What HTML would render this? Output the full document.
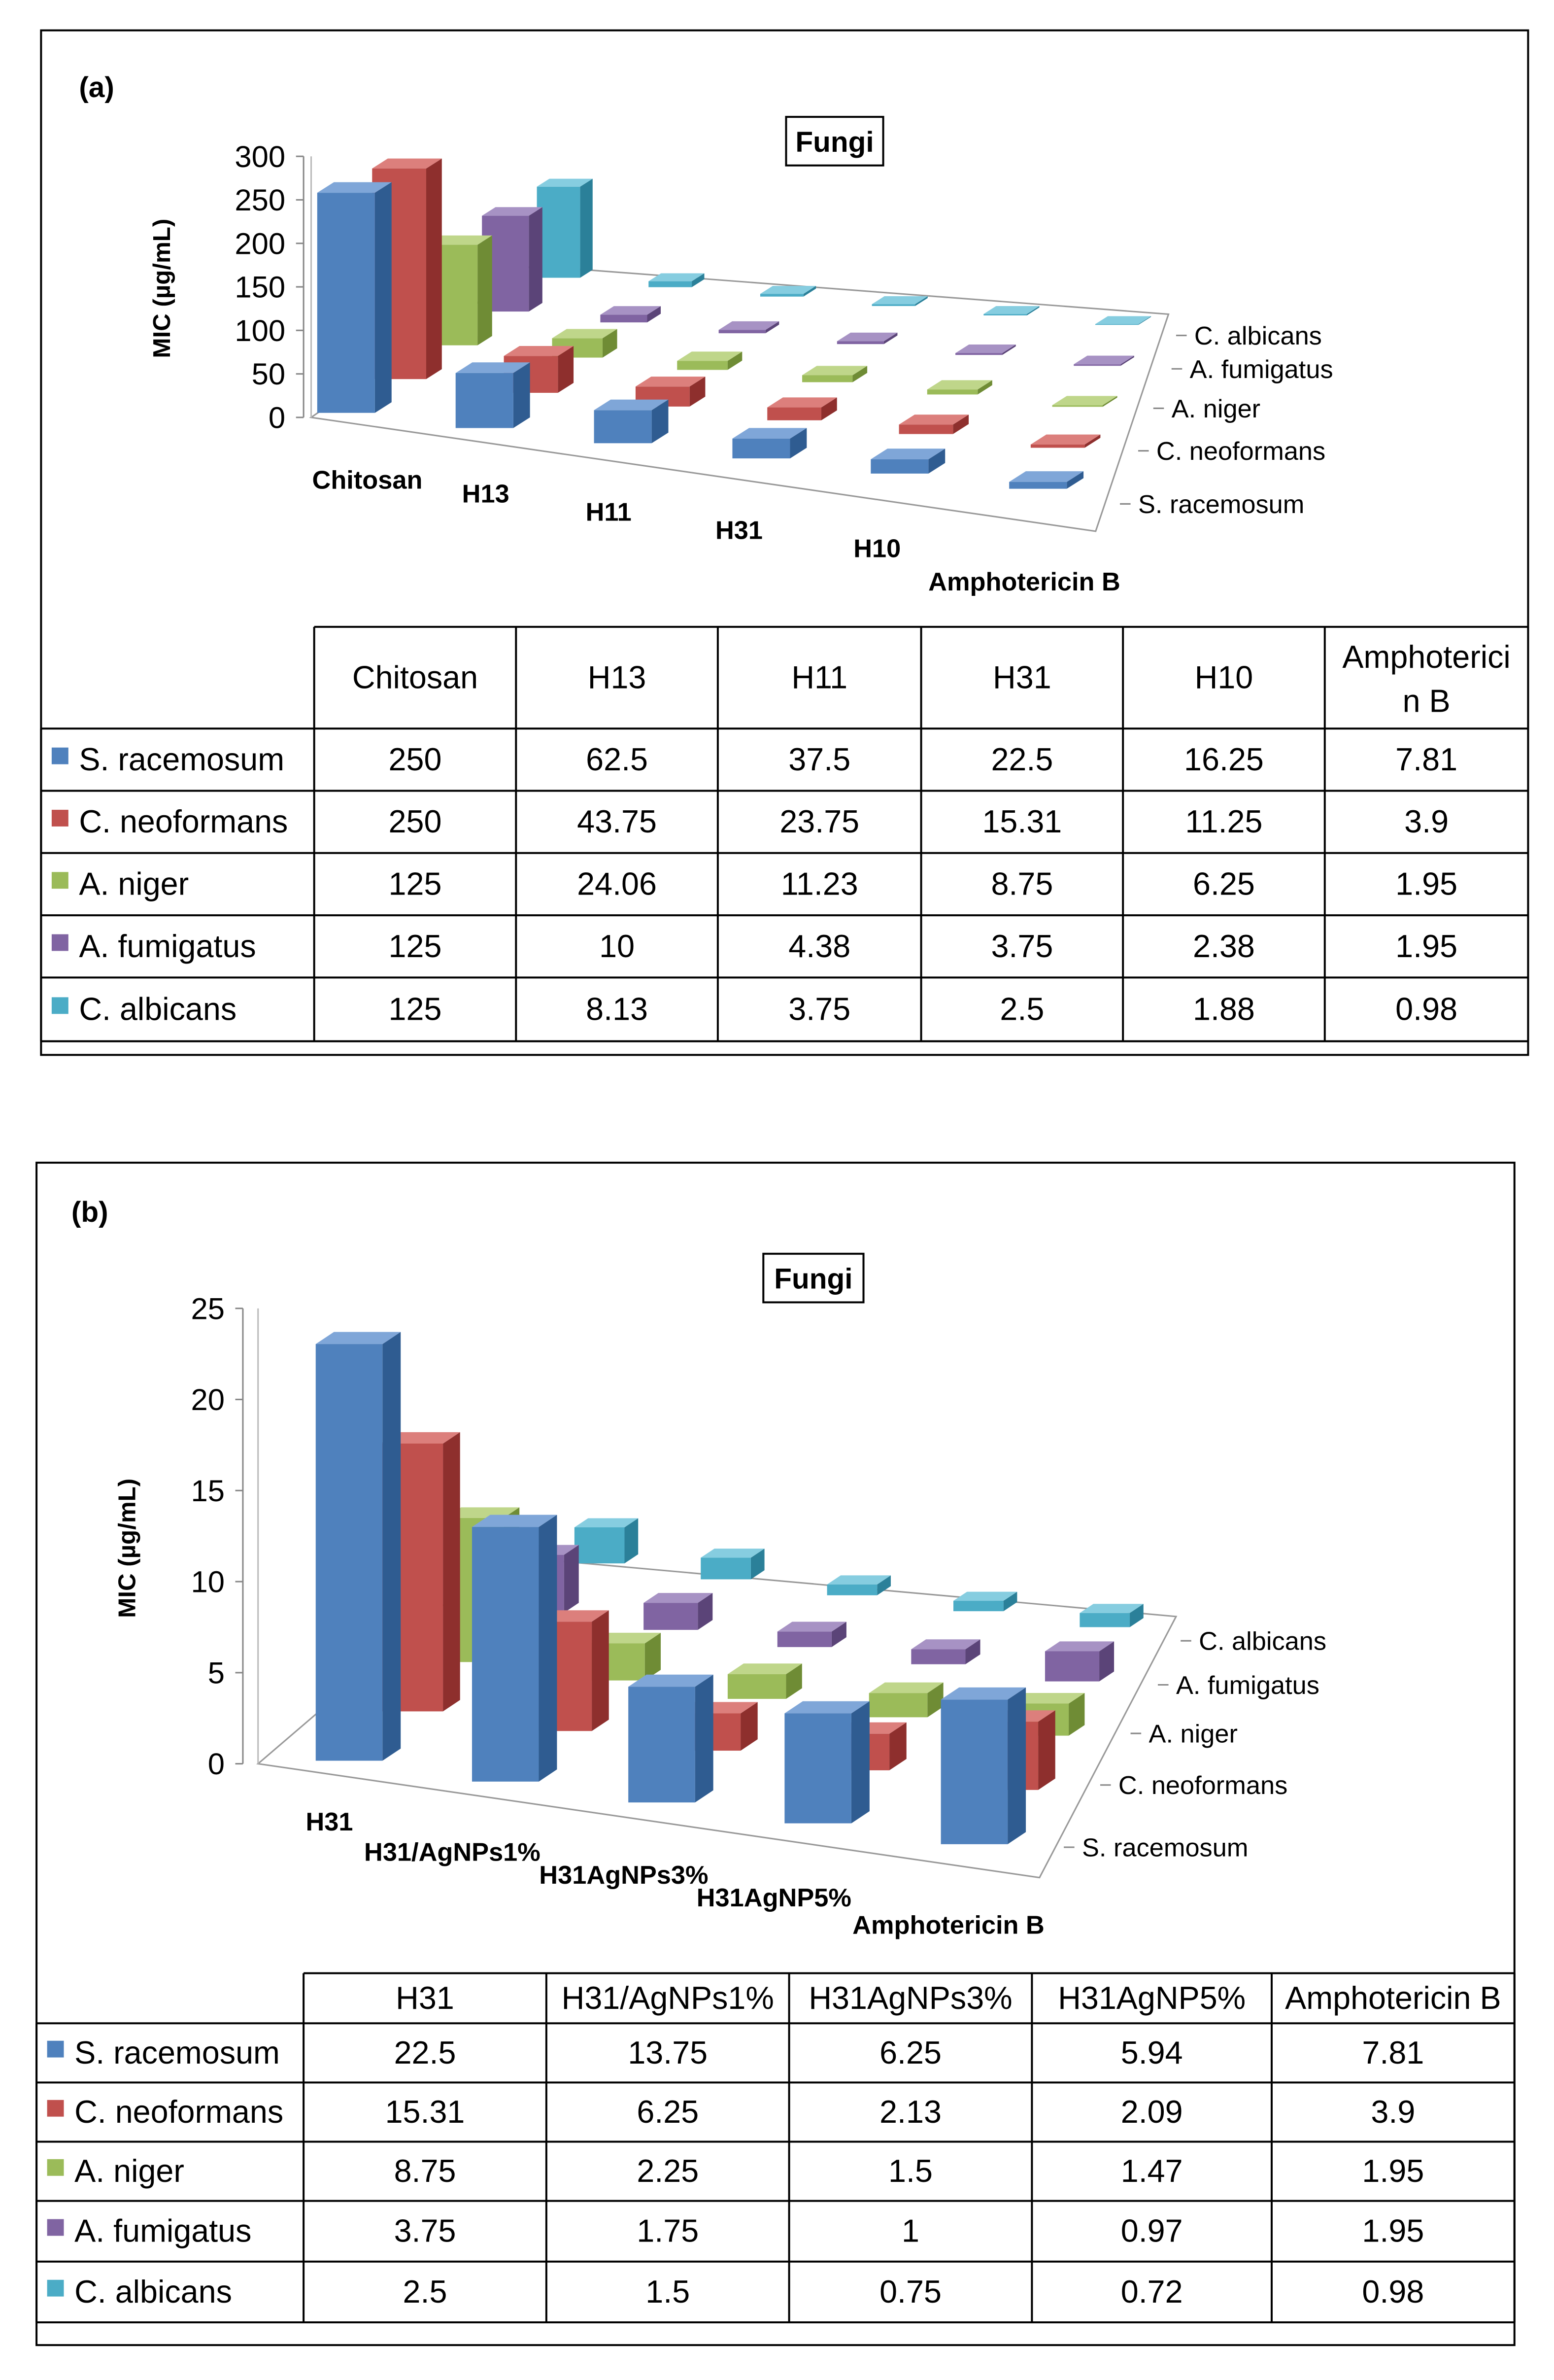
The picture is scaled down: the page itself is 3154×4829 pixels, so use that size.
<!DOCTYPE html>
<html><head><meta charset="utf-8"><style>
html,body{margin:0;padding:0;background:#fff}
svg{display:block}
text{font-family:"Liberation Sans",sans-serif}
</style></head><body>
<svg id="s" width="3154" height="4829" viewBox="0 0 1024 1568" xmlns="http://www.w3.org/2000/svg">
<g id="root"></g>
</svg>
<script>
const seriesNames = ["S. racemosum","C. neoformans","A. niger","A. fumigatus","C. albicans"];
const catsA = ["Chitosan","H13","H11","H31","H10","Amphotericin B"];
const srA = [250,62.5,37.5,22.5,16.25,7.81];
const cnA = [250,43.75,23.75,15.31,11.25,3.9];
const anA = [125,24.06,11.23,8.75,6.25,1.95];
const afA = [125,10,4.38,3.75,2.38,1.95];
const caA = [125,8.13,3.75,2.5,1.88,0.98];
const ticksA = [0,50,100,150,200,250,300];
const catsB = ["H31","H31/AgNPs1%","H31AgNPs3%","H31AgNP5%","Amphotericin B"];
const srB = [22.5,13.75,6.25,5.94,7.81];
const cnB = [15.31,6.25,2.13,2.09,3.9];
const anB = [8.75,2.25,1.5,1.47,1.95];
const afB = [3.75,1.75,1,0.97,1.95];
const caB = [2.5,1.5,0.75,0.72,0.98];
const ticksB = [0,5,10,15,20,25];

const NS="http://www.w3.org/2000/svg";
const root=document.getElementById('root');
const colors=[["#4f81bd","#2f5c91","#7fa6d8"],["#c0504d","#8e2f2d","#dc7f7c"],["#9bbb59","#6f8c35","#bfd68a"],["#8064a2","#5b4478","#a792c4"],["#4bacc6","#2b8099","#86cde0"]];
function mk(tag,attrs,parent){const e=document.createElementNS(NS,tag);for(const k in attrs)e.setAttribute(k,attrs[k]);(parent||root).appendChild(e);return e;}
function txt(x,y,s,size,anchor,weight,parent){const t=mk('text',{x:x,y:y,'font-size':size,'text-anchor':anchor||'start','font-weight':weight||'normal',fill:'#000'},parent);t.textContent=s;return t;}

function chart(cfg){
  const g=mk('g',{});
  
  
  const n=cfg.cats.length;
  function base(i,j){const t=i/(n-1),u=j/4;
    const fx=cfg.F0[0]+(cfg.F1[0]-cfg.F0[0])*t, fy=cfg.F0[1]+(cfg.F1[1]-cfg.F0[1])*t;
    const bx=cfg.B0[0]+(cfg.B1[0]-cfg.B0[0])*t, by=cfg.B0[1]+(cfg.B1[1]-cfg.B0[1])*t;
    return [fx+(bx-fx)*u, fy+(by-fy)*u, cfg.sF+(cfg.sB-cfg.sF)*u, 1-0.25*u];}
  mk('polygon',{points:cfg.floor.map(p=>p.join(',')).join(' '),fill:'none',stroke:'#999','stroke-width':1},g);
  mk('polyline',{points:cfg.wall.map(p=>p.join(',')).join(' '),fill:'none',stroke:'#bbb','stroke-width':1},g);
  mk('line',{x1:cfg.ax,y1:cfg.y0,x2:cfg.ax,y2:cfg.y0-cfg.ticks[cfg.ticks.length-1]*cfg.ppu,stroke:'#888'},g);
  cfg.ticks.forEach(v=>{const y=cfg.y0-v*cfg.ppu;
    mk('line',{x1:cfg.ax-5,y1:y,x2:cfg.ax,y2:y,stroke:'#888'},g);
    const t=txt(cfg.ax-12,y+7,String(v),20,'end','normal',g);
    
    });
  for(let j=4;j>=0;j--){
    for(let i=0;i<n;i++){
      const v=cfg.series[j][i];const b=base(i,j);
      const w=cfg.bw*b[3], dx=cfg.dx*b[3], dy=cfg.dy*b[3];
      const h=v*b[2];
      const x0=b[0]-w/2, yb=b[1], yt=b[1]-h;
      const bar=mk('g',{},g);
      
      
      const c=colors[j];
      mk('polygon',{points:`${x0+w},${yb} ${x0+w+dx},${yb+dy} ${x0+w+dx},${yt+dy} ${x0+w},${yt}`,fill:c[1]},bar);
      mk('polygon',{points:`${x0},${yt} ${x0+dx},${yt+dy} ${x0+w+dx},${yt+dy} ${x0+w},${yt}`,fill:c[2]},bar);
      mk('rect',{x:x0,y:yt,width:w,height:Math.max(h,0.5),fill:c[0]},bar);
    }
  }
  cfg.catPos.forEach((p,i)=>{const t=txt(p[0],p[1],cfg.cats[i],17,'middle','bold',g);
    
    });
  cfg.serPos.forEach((p,k)=>{const t=txt(p[0],p[1],seriesNames[4-k],17,'start','normal',g);
    
    
    mk('line',{x1:p[0]-12,y1:p[1]-6,x2:p[0]-5,y2:p[1]-6,stroke:'#888'},g);});
}

function table(cfg){
  const g=mk('g',{});
  
  
  const cx=cfg.cols, ry=cfg.rows;
  mk('line',{x1:cx[1],y1:ry[0],x2:cx[cx.length-1],y2:ry[0],stroke:'#000','stroke-width':1.3},g);
  for(let r=1;r<ry.length;r++) mk('line',{x1:cx[0],y1:ry[r],x2:cx[cx.length-1],y2:ry[r],stroke:'#000','stroke-width':1.3},g);
  for(let c=1;c<cx.length;c++) mk('line',{x1:cx[c],y1:ry[0],x2:cx[c],y2:ry[ry.length-1],stroke:'#000','stroke-width':1.3},g);
  mk('line',{x1:cx[0],y1:ry[1],x2:cx[0],y2:ry[ry.length-1],stroke:'#000','stroke-width':1.3},g);
  cfg.header.forEach((h,i)=>{const mx=(cx[i+1]+cx[i+2])/2;
    if(Array.isArray(h)){txt(mx,ry[0]+27,h[0],21,'middle','normal',g);txt(mx,ry[0]+56,h[1],21,'middle','normal',g);}
    else txt(mx,(ry[0]+ry[1])/2+7,h,21,'middle','normal',g);});
  for(let j=0;j<5;j++){const y=(ry[j+1]+ry[j+2])/2+7;
    mk('rect',{x:cx[0]+7,y:y-15,width:11,height:11,fill:colors[j][0]},g);
    const t=txt(cx[0]+25,y,seriesNames[j],21,'start','normal',g);
    
    
    cfg.series[j].forEach((v,i)=>txt((cx[i+1]+cx[i+2])/2,y,String(v),21,'middle','normal',g));}
}

mk('rect',{x:27,y:20,width:980,height:675,fill:'none',stroke:'#000','stroke-width':1.3});
txt(52,64,'(a)',19,'start','bold');
mk('rect',{x:518,y:77,width:64,height:32,fill:'#fff',stroke:'#000','stroke-width':1.3});
txt(550,100,'Fungi',19,'middle','bold');
txt(0,0,'MIC (µg/mL)',16,'middle','bold').setAttribute('transform','translate(112,190) rotate(-90)');
chart({name:'chart-a',cats:catsA,series:[srA,cnA,anA,afA,caA],ticks:ticksA,ax:200,y0:275,ppu:172/300,
  F0:[228,272],F1:[684,322],B0:[368,183],B1:[736,214],sF:0.58,sB:0.48,bw:38,dx:11,dy:-7,
  floor:[[205,275],[350,175],[770,207],[722,350]],wall:[[205,103],[205,275]],
  catPos:[[242,322],[320,331],[401,343],[487,355],[578,367],[675,389]],
  serPos:[[787,227],[784,249],[772,275],[762,303],[750,338]]});
table({name:'table-a',cols:[27,207,340,473,607,740,873,1007],rows:[413,480,521,562,603,644,686],
  header:['Chitosan','H13','H11','H31','H10',['Amphoterici','n B']],series:[srA,cnA,anA,afA,caA]});

mk('rect',{x:24,y:766,width:974,height:779,fill:'none',stroke:'#000','stroke-width':1.3});
txt(47,805,'(b)',19,'start','bold');
mk('rect',{x:503,y:826,width:66,height:32,fill:'#fff',stroke:'#000','stroke-width':1.3});
txt(536,849,'Fungi',19,'middle','bold');
txt(0,0,'MIC (µg/mL)',16,'middle','bold').setAttribute('transform','translate(89,1020) rotate(-90)');
chart({name:'chart-b',cats:catsB,series:[srB,cnB,anB,afB,caB],ticks:ticksB,ax:160,y0:1162,ppu:12,
  F0:[230,1160],F1:[642,1215],B0:[395,1030],B1:[728,1072],sF:12.2,sB:9.5,bw:44,dx:12,dy:-8,
  floor:[[170,1162],[330,1025],[775,1065],[685,1237]],wall:[[170,1162],[170,862]],
  catPos:[[217,1206],[298,1226],[411,1241],[510,1256],[625,1274]],
  serPos:[[790,1087],[775,1116],[757,1148],[737,1182],[713,1223]]});
table({name:'table-b',cols:[24,200,360,520,680,838,998],rows:[1300,1333,1372,1411,1450,1490,1530],
  header:['H31','H31/AgNPs1%','H31AgNPs3%','H31AgNP5%','Amphotericin B'],series:[srB,cnB,anB,afB,caB]});
</script>
</body></html>
